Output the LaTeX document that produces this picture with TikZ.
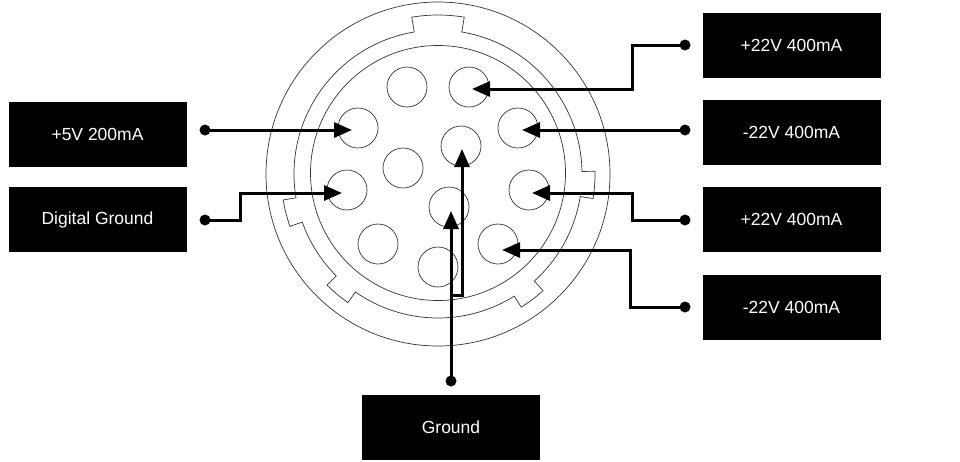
\documentclass[tikz,border=0pt]{standalone}
\usepackage{fontspec}
\setmainfont{Liberation Sans}
\usetikzlibrary{arrows.meta}
\begin{document}
\begin{tikzpicture}[x=1pt,y=-1pt,
  box/.style={fill=black,text=white,minimum width=178pt,minimum height=65pt,inner sep=0pt,font=\fontsize{17.5}{20}\selectfont},
  pin/.style={circle,draw=black!80,line width=0.7pt,minimum size=40pt,inner sep=0pt},
  dot/.style={circle,fill=black,minimum size=11pt,inner sep=0pt},
  lead/.style={line width=3pt,-{Triangle[length=18pt,width=15pt]}},
  thin/.style={draw=black!80,line width=0.7pt}]
\useasboundingbox (0,0) rectangle (960,461);
% boxes
\node[box] (b1) at (791.5,45) {+22V 400mA};
\node[box] (b2) at (791.5,132.5) {-22V 400mA};
\node[box] (b3) at (791.5,219.5) {+22V 400mA};
\node[box] (b4) at (791.5,307.5) {-22V 400mA};
\node[box] (b5) at (97.5,134.5) {+5V 200mA};
\node[box] (b6) at (97.5,219.5) {Digital Ground};
\node[box] (b7) at (451,427.5) {Ground};
% housing
\draw[thin] (438,174) circle[radius=172];
\draw[thin] (438,173) circle[radius=127.5];
\begin{scope}[shift={(438,174)},yscale=-1]
\draw[thin] (99.5:144) arc[start angle=99.5,end angle=189.5,radius=144] -- (189.5:157)
 arc[start angle=189.5,end angle=199.5,radius=157] -- (199.5:144)
 arc[start angle=199.5,end angle=225,radius=144] -- (225:157)
 arc[start angle=225,end angle=235,radius=157] -- (235:144)
 arc[start angle=235,end angle=302,radius=144] -- (302:157)
 arc[start angle=302,end angle=312,radius=157] -- (312:144)
 arc[start angle=312,end angle=351,radius=144] -- (351:157)
 arc[start angle=351,end angle=361,radius=157] -- (361:144)
 arc[start angle=361,end angle=440.5,radius=144] -- (80.5:159)
 arc[start angle=80.5,end angle=99.5,radius=159] -- cycle;
\end{scope}
% pins
\node[pin] (p1) at (407,87) {};
\node[pin] (p2) at (469,87) {};
\node[pin] (p3) at (358,128) {};
\node[pin] (p4) at (518,128) {};
\node[pin] (p5) at (461,146) {};
\node[pin] (p6) at (403,168) {};
\node[pin] (p7) at (347,190) {};
\node[pin] (p8) at (529,190) {};
\node[pin] (p9) at (449,207) {};
\node[pin] (p10) at (378,244) {};
\node[pin] (p11) at (498,244) {};
\node[pin] (p12) at (438,267) {};
% dots
\node[dot] (d1) at (685,45) {};
\node[dot] (d2) at (685,130) {};
\node[dot] (d3) at (685,220) {};
\node[dot] (d4) at (685,307) {};
\node[dot] (d5) at (205,130) {};
\node[dot] (d6) at (205,220) {};
\node[dot] (d7) at (451,381) {};
\coordinate (t1) at (472,89);
\coordinate (t2) at (522,130);
\coordinate (t3) at (532,193);
\coordinate (t4) at (502,250);
\coordinate (t5) at (352,130);
\coordinate (t6) at (342,193);
\coordinate (t7) at (451,211);
\coordinate (t8) at (462,149);
\coordinate (j) at (451,295);
% leads
\draw[lead] (d1.center) -| (632,89) -- (t1);
\draw[lead] (d2.center) -- (t2);
\draw[lead] (d3.center) -| (632,193) -- (t3);
\draw[lead] (d4.center) -| (630,250) -- (t4);
\draw[lead] (d5.center) -- (t5);
\draw[lead] (d6.center) -| (240,193) -- (t6);
\draw[lead] (d7.center) -- (t7);
\draw[lead] (j) -| (t8);
\end{tikzpicture}
\end{document}
